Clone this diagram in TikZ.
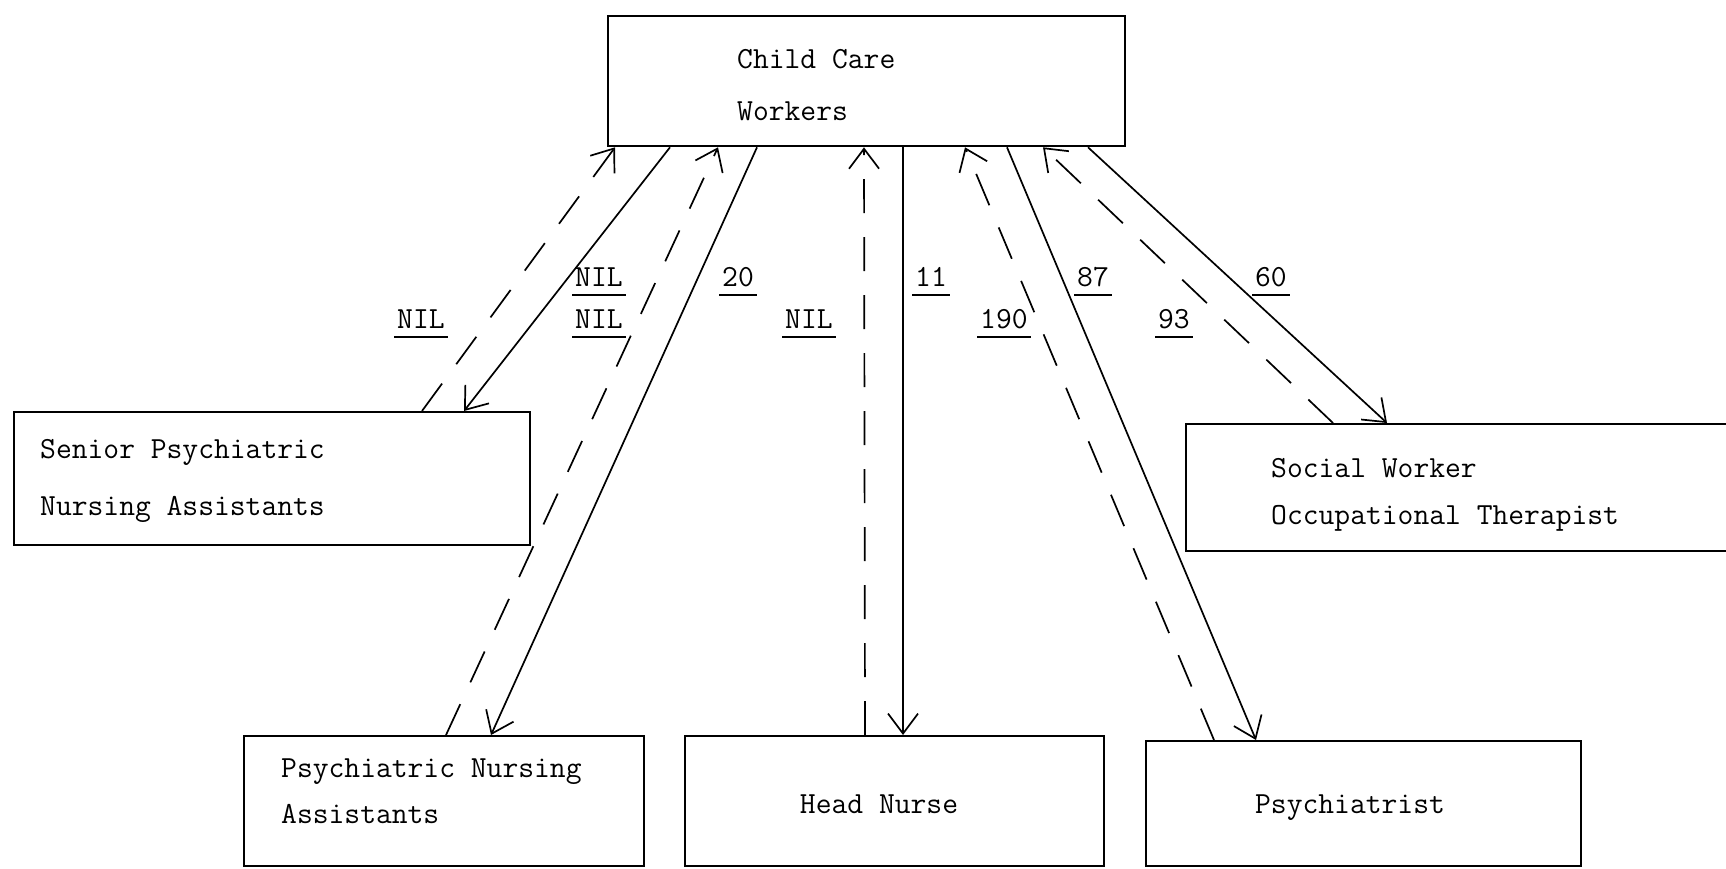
\documentclass[tikz,border=0pt]{standalone}
\usetikzlibrary{arrows.meta,calc}
\newcommand{\twfont}{\ttfamily\fontsize{30.7}{36}\selectfont}
\begin{document}
\begin{tikzpicture}[x=1pt,y=-1pt,
  box/.style={draw, line width=2.3pt, anchor=north west, inner sep=0pt},
  txt/.style={font=\twfont, anchor=base west, inner sep=0pt},
  ctxt/.style={font=\twfont, anchor=base, inner sep=0pt},
  lbl/.style={font=\twfont, anchor=base west, inner xsep=3pt, inner ysep=0pt, text depth=9pt},
  ulrule/.style={line width=1.8pt},
  >={Straight Barb[length=20pt,width=30pt]},
  con/.style={line width=1.7pt, ->},
  dcon/.style={con, dash pattern=on 34pt off 24pt}]

\fill[white] (0,0) rectangle (1726,868);
\useasboundingbox (0,0) rectangle (1726,868);

% boxes
\node[box, minimum width=517pt, minimum height=130pt] (ccw)  at (607,15)  {};
\node[box, minimum width=516pt, minimum height=133pt] (spna) at (13,411)  {};
\node[box, minimum width=560pt, minimum height=127pt] (sw)   at (1185,423) {};
\node[box, minimum width=400pt, minimum height=130pt] (pna)  at (243,735) {};
\node[box, minimum width=419pt, minimum height=130pt] (hn)   at (684,735) {};
\node[box, minimum width=435pt, minimum height=125pt] (psy)  at (1145,740) {};

% box texts
\node[txt] (ccw1)  at (737,68)  {Child Care};
\node[txt] (ccw2)  at (737,120) {Workers};
\node[txt] (spna1) at (40,458)  {Senior Psychiatric};
\node[txt] (spna2) at (40,515)  {Nursing Assistants};
\node[txt] (sw1)   at (1271,477) {Social Worker};
\node[txt] (sw2)   at (1271,524) {Occupational Therapist};
\node[txt] (pna1)  at (281,777) {Psychiatric Nursing};
\node[txt] (pna2)  at (281,823) {Assistants};
\node[ctxt] (hn1)  at (879,813) {Head Nurse};
\node[ctxt] (psy1) at (1350,813) {Psychiatrist};

% connectors: dashed upward, solid downward
\draw[dcon] ($(spna.north west)+(409,0)$) -- ($(ccw.south west)+(8,0)$);
\draw[con]  ($(ccw.south west)+(63,0)$)  -- ($(spna.north west)+(451,0)$);
\draw[dcon] ($(pna.north west)+(203,0)$) -- ($(ccw.south west)+(111,0)$);
\draw[con]  ($(ccw.south west)+(150,0)$) -- ($(pna.north west)+(248,0)$);
\draw[dcon] ($(hn.north west)+(181,0)$)  -- ($(ccw.south west)+(257,0)$);
\draw[con]  ($(ccw.south west)+(296,0)$) -- ($(hn.north west)+(219,0)$);
\draw[dcon] ($(psy.north west)+(69,0)$)  -- ($(ccw.south west)+(358,0)$);
\draw[con]  ($(ccw.south west)+(400,0)$) -- ($(psy.north west)+(111,0)$);
\draw[dcon] ($(sw.north west)+(148,0)$)  -- ($(ccw.south west)+(436,0)$);
\draw[con]  ($(ccw.south west)+(481,0)$) -- ($(sw.north west)+(202,0)$);

% counts
\node[lbl] (l1)  at (394,328)  {NIL};
\node[lbl] (l2)  at (572,286)  {NIL};
\node[lbl] (l3)  at (572,328)  {NIL};
\node[lbl] (l4)  at (719,286)  {20};
\node[lbl] (l5)  at (782,328)  {NIL};
\node[lbl] (l6)  at (912,286)  {11};
\node[lbl] (l7)  at (977,328)  {190};
\node[lbl] (l8)  at (1074,286) {87};
\node[lbl] (l9)  at (1155,328) {93};
\node[lbl] (l10) at (1252,286) {60};
\foreach \n in {l1,l2,l3,l4,l5,l6,l7,l8,l9,l10}
  \draw[ulrule] (\n.south west) -- (\n.south east);
\end{tikzpicture}
\end{document}
